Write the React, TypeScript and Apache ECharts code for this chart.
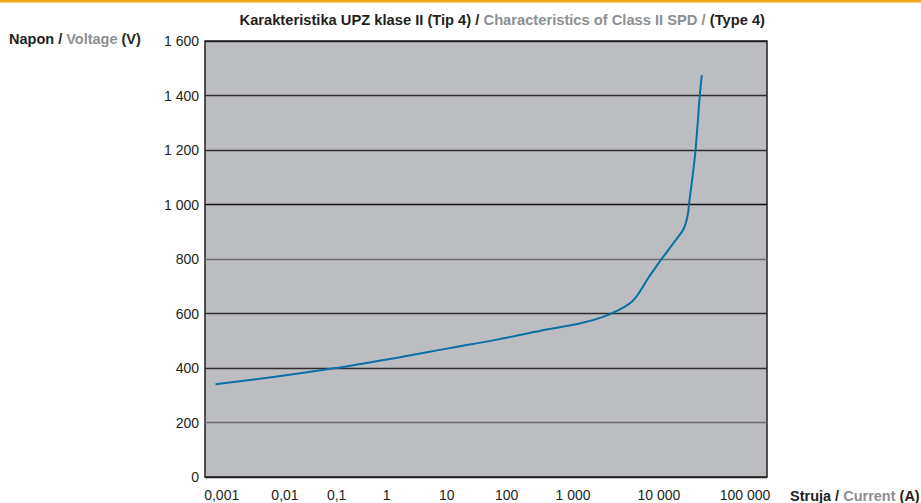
import React, { useEffect, useRef } from 'react';
import * as echarts from 'echarts';

// Current axis ticks (A) and their printed labels
const CURRENT_TICKS = [0.001, 0.01, 0.1, 1, 10, 100, 1000, 10000, 100000];
const CURRENT_TICK_LABELS = ['0,001', '0,01', '0,1', '1', '10', '100', '1 000', '10 000', '100 000'];

// Voltage axis
const VOLTAGE_MIN = 0;
const VOLTAGE_MAX = 1600;
const VOLTAGE_STEP = 200;

// V-I characteristic
const CURRENT_A = [0.0008, 0.007, 0.09, 1.35, 10.6, 72, 420, 1290, 2650, 4900, 7600, 10500, 15700, 19500, 21700, 22300, 24500, 26600, 28200, 29800, 31450];
const VOLTAGE_V = [340, 368, 399, 436, 472, 505, 542, 566, 597, 645, 733, 796, 870, 913, 965, 1000, 1100, 1200, 1300, 1400, 1475];

// Layout: the reference's current scale is not evenly spaced per decade;
// each tick sits at this position on a 0-100 axis.
const TICK_AXIS_POS = [2.97, 14.23, 23.43, 32.33, 43.01, 53.68, 65.48, 80.78, 96.09];

const toAxis = (a: number) => {
  const l = Math.log10(a);
  const logs = CURRENT_TICKS.map((t) => Math.log10(t));
  let i = 0;
  while (i < logs.length - 2 && l > logs[i + 1]) i++;
  const t = (l - logs[i]) / (logs[i + 1] - logs[i]);
  return TICK_AXIS_POS[i] + t * (TICK_AXIS_POS[i + 1] - TICK_AXIS_POS[i]);
};

const fmtThousands = (v: number) => String(v).replace(/\B(?=(\d{3})+(?!\d))/g, ' ');

const DARK = '#231f20';
const GRAY = '#8d8f92';
const FONT = '"Liberation Sans", Arial, Helvetica, sans-serif';

const richParts = (size: number) => ({
  d: { fill: DARK, fontSize: size, fontWeight: 'bold', fontFamily: FONT },
  g: { fill: GRAY, fontSize: size, fontWeight: 'bold', fontFamily: FONT },
});

export default function App() {
  const ref = useRef<HTMLDivElement>(null);
  useEffect(() => {
    if (!ref.current) return;
    const chart = echarts.init(ref.current, undefined, { renderer: 'svg' });
    const tickPos = CURRENT_TICKS.map(toAxis);
    chart.setOption({
      animation: false,
      backgroundColor: '#ffffff',
      textStyle: { fontFamily: FONT },
      grid: {
        left: 205,
        right: 154,
        top: 41,
        bottom: 26,
        show: true,
        backgroundColor: '#bcbdc1',
        borderColor: DARK,
        borderWidth: 1.5,
      },
      xAxis: {
        type: 'value',
        min: 0,
        max: 100,
        axisLine: { show: false },
        axisTick: { show: false },
        splitLine: { show: false },
        axisLabel: {
          customValues: tickPos,
          margin: 11,
          color: DARK,
          fontSize: 14,
          fontFamily: FONT,
          hideOverlap: false,
          formatter: (v: number) => {
            let best = 0;
            tickPos.forEach((p, i) => {
              if (Math.abs(p - v) < Math.abs(tickPos[best] - v)) best = i;
            });
            return CURRENT_TICK_LABELS[best];
          },
        },
      },
      yAxis: {
        type: 'value',
        min: VOLTAGE_MIN,
        max: VOLTAGE_MAX,
        interval: VOLTAGE_STEP,
        axisLine: { show: false },
        axisTick: { show: false },
        axisLabel: {
          color: DARK,
          fontSize: 14,
          fontFamily: FONT,
          margin: 6,
          formatter: (v: number) => fmtThousands(v),
        },
        splitLine: {
          show: true,
          lineStyle: {
            width: 1.4,
            color: [DARK, '#6d6e71', '#2e2e2e', '#2e2e2e', '#6d6e71', '#111111', '#2e2e2e', '#2e2e2e', DARK],
          },
        },
      },
      series: [
        {
          type: 'line',
          data: CURRENT_A.map((a, i) => [toAxis(a), VOLTAGE_V[i]]),
          showSymbol: false,
          smooth: 0.35,
          lineStyle: { color: '#0b6fa3', width: 2 },
        },
      ],
      graphic: [
        { type: 'rect', shape: { x: 0, y: 0, width: 921, height: 2.5 }, style: { fill: '#f3a816' } },
        {
          type: 'text',
          x: 765,
          y: 20,
          scaleX: 0.98,
          style: {
            text: '{d|Karakteristika UPZ klase II (Tip 4) / }{g|Characteristics of Class II SPD / }{d|(Type 4)}',
            textAlign: 'right',
            textVerticalAlign: 'middle',
            rich: richParts(15),
          },
        },
        {
          type: 'text',
          x: 9,
          y: 39,
          style: {
            text: '{d|Napon / }{g|Voltage}{d| (V)}',
            textAlign: 'left',
            textVerticalAlign: 'middle',
            rich: richParts(14.5),
          },
        },
        {
          type: 'text',
          x: 790,
          y: 496,
          style: {
            text: '{d|Struja / }{g|Current}{d| (A)}',
            textAlign: 'left',
            textVerticalAlign: 'middle',
            rich: richParts(14.5),
          },
        },
      ],
    });
    return () => chart.dispose();
  }, []);
  return <div ref={ref} style={{ position: 'fixed', left: 0, top: 0, width: 921, height: 503 }} />;
}
